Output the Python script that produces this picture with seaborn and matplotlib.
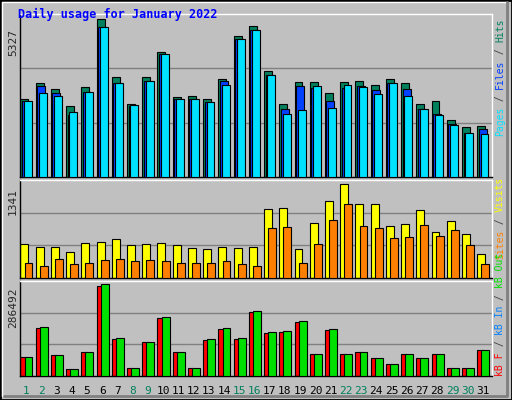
import numpy as np
import matplotlib
matplotlib.use("Agg")
import matplotlib.pyplot as plt
import seaborn as sns
from matplotlib.patches import Rectangle

days = list(range(1, 32))
hits = [2615,3157,2977,2374,3013,5327,3374,2470,3374,4206,2687,2736,2615,3302,4760,5086,3555,2470,3194,3194,2832,3194,3230,3097,3302,3157,2470,2543,1928,1675,1711]
files = [2555,3049,2832,2085,2868,5037,3157,2386,3230,4134,2615,2615,2507,3230,4640,4929,3447,2290,3049,2989,2543,2989,3049,2940,3157,2977,2290,2109,1784,1494,1603]
pages = [2543,2832,2724,2181,2868,5037,3157,2434,3230,4134,2615,2615,2507,3085,4640,4929,3447,2109,2254,3049,2326,3085,3013,2796,3157,2724,2290,2073,1747,1494,1458]
visits = [484,440,440,368,498,513,557,469,484,498,469,426,411,440,426,440,992,1007,411,789,1104,1341,1060,1060,750,779,973,658,818,629,339]
sites = [222,179,266,194,208,252,266,237,252,237,222,208,208,237,194,179,716,731,222,484,838,1055,745,716,571,586,760,600,687,469,194]
kb_out = [60200,152400,66500,22000,76000,286492,117600,26100,107100,185400,76000,26100,114500,149300,117600,202600,136900,140000,171400,69700,146200,69700,76000,57500,38700,69700,57500,69700,26100,26100,82300]
kb_f = [v * 0.985 for v in kb_out]
kb_in = [0] * 31

sns.set_style("white")
plt.rcParams['font.family'] = ['DejaVu Sans Mono']
BG = "#C0C0C0"
fig = plt.figure(figsize=(5.12, 4.0), dpi=100)
fig.patch.set_facecolor(BG)
W, H = 512, 400
def ax_at(x0, y0, x1, y1):
    a = fig.add_axes([x0/W, 1-y1/H, (x1-x0)/W, (y1-y0)/H])
    a.set_facecolor(BG)
    for s in a.spines.values():
        s.set_color("black"); s.set_linewidth(1)
    a.spines['top'].set_color("white"); a.spines['right'].set_color("white")
    a.set_xticks([]); a.set_yticks([])
    a.set_xlim(0.5, 31.5)
    return a

x = np.array(days)
ek = dict(edgecolor="black", linewidth=0.8, align="edge")

a1 = ax_at(20, 14, 492, 177)
top1 = 5327 * 455 / 442
a1.set_ylim(0, top1)
for g in (top1/3, 2*top1/3):
    a1.axhline(g, color="#808080", lw=1, zorder=0)
a1.bar(x - 0.47, hits, width=0.52, color="#00805C", **ek, zorder=2)
a1.bar(x - 0.37, files, width=0.52, color="#0040FF", **ek, zorder=3)
a1.bar(x - 0.25, pages, width=0.52, color="#00E0FF", **ek, zorder=4)

a2 = ax_at(20, 180, 492, 278)
top2 = 1341 * 290 / 277
a2.set_ylim(0, top2)
for g in (top2/3, 2*top2/3):
    a2.axhline(g, color="#808080", lw=1, zorder=0)
a2.bar(x - 0.47, visits, width=0.52, color="#FFFF00", **ek, zorder=2)
a2.bar(x - 0.2, sites, width=0.52, color="#FF8000", **ek, zorder=3)

a3 = ax_at(20, 281, 492, 376)
top3 = 286492 * 284 / 274
a3.set_ylim(0, top3)
for g in (top3/3, 2*top3/3):
    a3.axhline(g, color="#808080", lw=1, zorder=0)
a3.bar(x - 0.47, kb_f, width=0.35, color="#FF0000", **ek, zorder=2)
a3.bar(x - 0.3, kb_in, width=0.3, color="#0080FF", **ek, zorder=3)
a3.bar(x - 0.2, kb_out, width=0.52, color="#00E000", **ek, zorder=4)

weekend = {1,2,8,9,15,16,22,23,29,30}
for d in days:
    a3.text(d - 0.1, -0.1, str(d), transform=a3.get_xaxis_transform(), ha="center", va="top",
            fontsize=8, color="#00805C" if d in weekend else "black")

fig.text(18/W, 1-14/H, "Daily usage for January 2022", color="#0000FF", fontsize=8.5,
         fontweight="bold", va="center", ha="left")
for yv, lab in ((29, "5327"), (188, "1341"), (287, "286492")):
    fig.text(13/W, 1-yv/H, lab, rotation=90, fontsize=8, va="top", ha="center")

def vlegend(xc, ybot, parts):
    y = ybot
    for s, c in parts:
        t = fig.text(xc/W, 1-y/H, s, rotation=90, color=c, fontsize=7, va="bottom", ha="center")
        fig.canvas.draw()
        y -= t.get_window_extent().height
vlegend(500, 136, [("Pages", "#00E0FF"), (" / ", "#404040"), ("Files", "#0040FF"), (" / ", "#404040"), ("Hits", "#00805C")])
vlegend(500, 259, [("Sites", "#FF8000"), (" / ", "#404040"), ("Visits", "#FFFF00")])
vlegend(500, 376, [("kB F", "#FF0000"), (" / ", "#404040"), ("kB In", "#0080FF"), (" / ", "#404040"), ("kB Out", "#00E000")])

fig.add_artist(Rectangle((0, 0), 1, 1, transform=fig.transFigure, fill=False, edgecolor="black", lw=2))
fig.add_artist(plt.Line2D([2/W, 2/W, 1-5/W], [4/H, 1-2/H, 1-2/H], transform=fig.transFigure, color="white", lw=1))
fig.add_artist(plt.Line2D([4/W, 1-5/W, 1-5/W], [4/H, 4/H, 1-2/H], transform=fig.transFigure, color="#808080", lw=2))
fig.savefig("out.png", dpi=100, facecolor=BG)
